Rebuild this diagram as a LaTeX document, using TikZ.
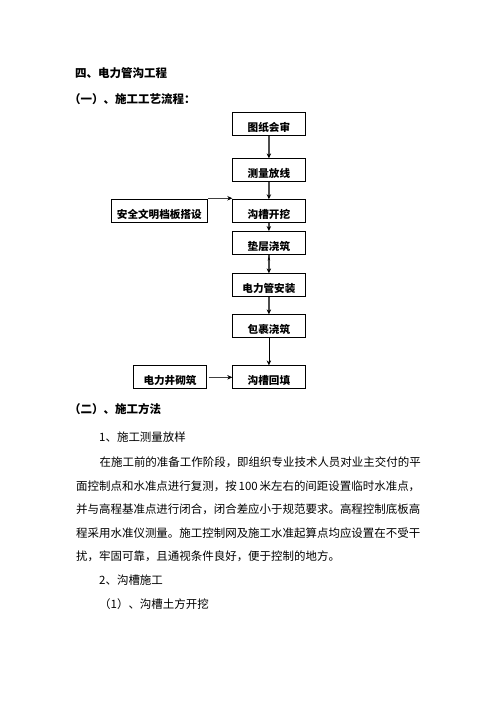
\documentclass[tikz,border=0pt]{standalone}
\usepackage{fontspec}
\setmainfont{Noto Sans CJK SC}
\usetikzlibrary{arrows.meta,decorations.markings}
\begin{document}
\begin{tikzpicture}[x=1pt,y=-1pt,
  box/.style={draw=black,line width=0.9pt,minimum height=23pt,inner sep=1pt,
    text height=15pt,text depth=0pt,font=\fontsize{10.6}{12}\selectfont\bfseries},
  flow/.style={draw=gray!60!black,line width=1.2pt,-{Stealth[length=5pt,width=4.5pt,black]}},
  thinflow/.style={draw=black,line width=0.7pt,-{Stealth[length=5pt,width=4.5pt,black]}},
  head/.style={anchor=west,inner sep=0pt,font=\fontsize{11.5}{13}\selectfont\bfseries},
  body/.style={anchor=west,inner sep=0pt,font=\fontsize{11.47}{13}\selectfont}]
\useasboundingbox[fill=white] (0,0) rectangle (496,702);

% headings
\node[head] (h1) at (75,73) {四、电力管沟工程};
\node[head] (h2) at (69,99) {（一）、施工工艺流程：};

% flow chart
\node[box,minimum width=72.3pt] (tz) at (268.9,124.3) {图纸会审};
\node[box,minimum width=72.3pt] (cl) at (268.9,170.3) {测量放线};
\node[box,minimum width=72.3pt] (gk) at (268.9,211.2) {沟槽开挖};
\node[box,minimum width=96.7pt] (aq) at (159.3,211.2) {安全文明档板搭设};
\node[box,minimum width=72.3pt] (dc) at (268.9,243) {垫层浇筑};
\node[box,minimum width=72.3pt] (dl) at (268.9,285.3) {电力管安装};
\node[box,minimum width=72.3pt] (bg) at (268.9,326.3) {包裹浇筑};
\node[box,minimum width=72.3pt] (ht) at (268.9,377.3) {沟槽回填};
\node[box,minimum width=73.4pt] (jq) at (170,377.3) {电力井砌筑};

\draw[flow] (tz) -- (cl);
\draw[flow] (cl) -- (gk);
\draw[flow] (gk) -- (dc);
\draw[flow,postaction={decorate,decoration={markings,
  mark=at position 0.3 with {\arrow{Stealth[length=4pt,width=2.5pt,black,reversed]}}}}] (dc) -- (dl);
\draw[flow] (dl) -- (bg);
\draw[thinflow] (bg) -- (ht);
\draw[thinflow,draw=gray!50!black] ([yshift=1pt]aq.north east) -- ([yshift=1pt]gk.north west);
\draw[thinflow,draw=gray!50!black] ([xshift=1.5pt]jq.east) -- (ht.west);

% section 2
\node[head] (h3) at (69,409) {（二）、施工方法};
\node[body] (s1) at (99,437) {1、施工测量放样};
\node[body] (p1) at (99.4,462.5) {在施工前的准备工作阶段，即组织专业技术人员对业主交付的平};
\node[body] (p2) at (76,486) {\makebox[344pt][s]{面控制点和水准点进行复测，按 100 米左右的间距设置临时水准点，}};
\node[body] (p3) at (76,509.5) {并与高程基准点进行闭合，闭合差应小于规范要求。高程控制底板高};
\node[body] (p4) at (76,533) {程采用水准仪测量。施工控制网及施工水准起算点均应设置在不受干};
\node[body] (p5) at (76,556.5) {扰，牢固可靠，且通视条件良好，便于控制的地方。};
\node[body] (s2) at (99,580.5) {2、沟槽施工};
\node[body] (s3) at (99,604.5) {（1）、沟槽土方开挖};
\end{tikzpicture}
\end{document}
